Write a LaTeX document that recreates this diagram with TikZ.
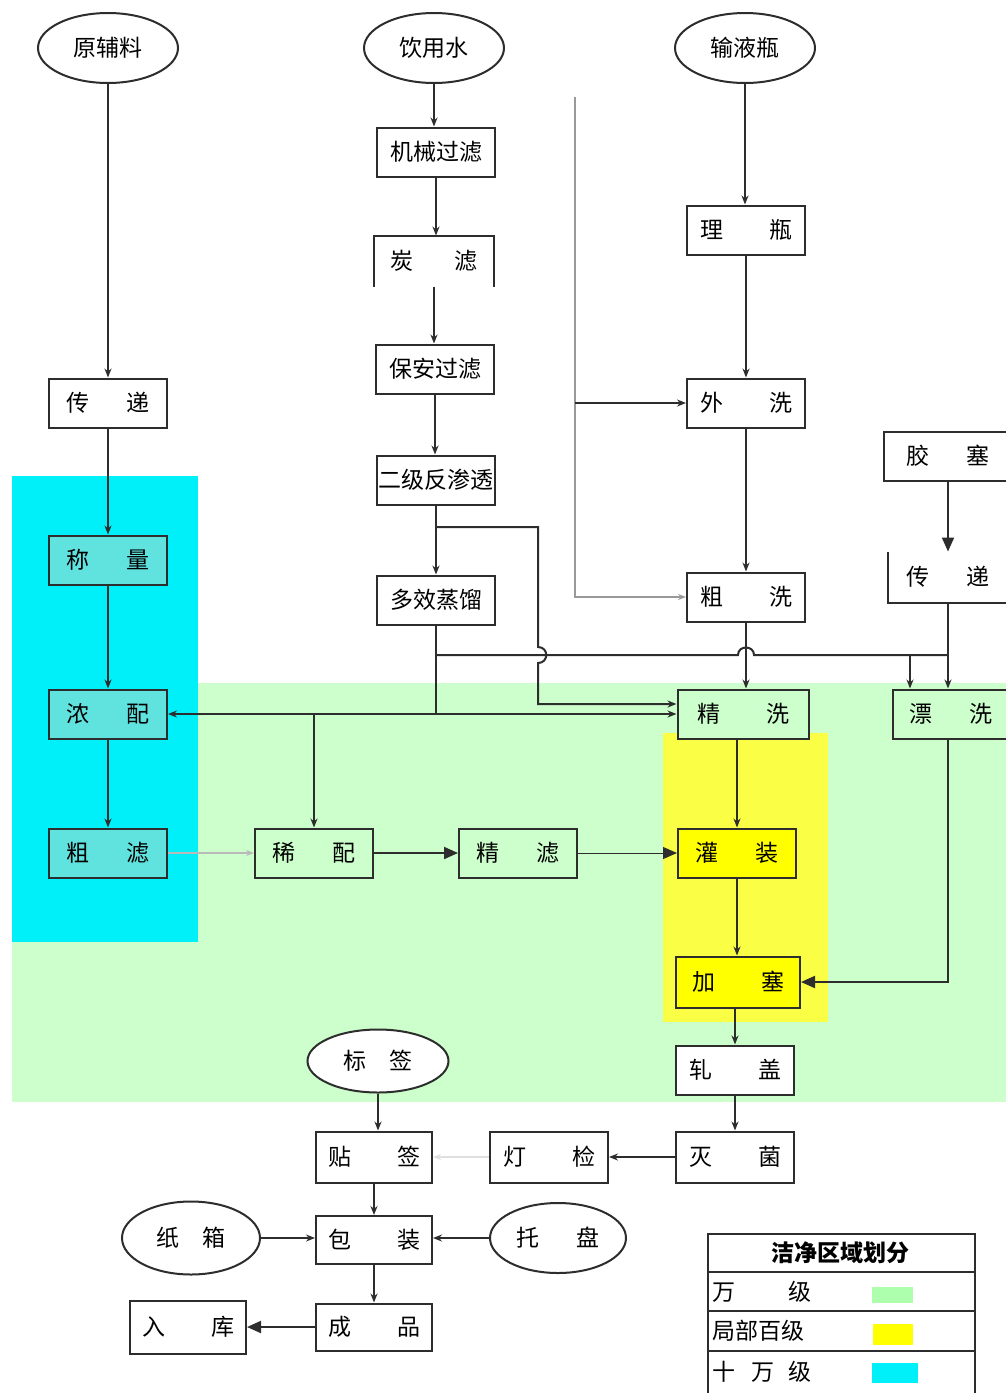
\documentclass[tikz,border=0pt]{standalone}
\usepackage{fontspec}
\setmainfont{Noto Sans CJK SC}
\usetikzlibrary{arrows.meta,shapes.geometric}

\definecolor{wanji}{RGB}{204,255,204}
\definecolor{shiwan}{RGB}{0,240,250}
\definecolor{baiji}{RGB}{250,255,70}
\definecolor{shiwanbox}{RGB}{96,226,222}
\definecolor{guanbox}{RGB}{255,255,0}
\definecolor{linegray}{RGB}{45,45,45}
\newcommand{\twochars}[3][1.6em]{#2\hspace{#1}#3}

\tikzset{
  box/.style={draw=linegray, line width=2pt, fill=white, minimum width=118pt,
    minimum height=49pt, inner sep=0pt, font=\fontsize{23}{26}\selectfont},
  openbox/.style={box, draw=none, fill=none},
  oval/.style={ellipse, draw=linegray, line width=2pt, fill=white, minimum width=140pt,
    minimum height=70pt, inner sep=0pt, font=\fontsize{23}{26}\selectfont},
  flow/.style={draw=linegray, line width=2pt, -{Stealth[length=9pt,width=7pt]}},
  bigflow/.style={draw=linegray, line width=2pt, -{Triangle[length=14pt,width=12pt]}},
  faint/.style={draw=gray!55, line width=1.2pt, -{Stealth[length=8pt,width=6pt]}},
  pipe/.style={draw=linegray, line width=2pt},
  legendtext/.style={anchor=west, inner sep=0pt, font=\fontsize{23}{26}\selectfont},
}

\begin{document}
\begin{tikzpicture}[x={(1pt,0pt)}, y={(0pt,-1pt)}]
    \useasboundingbox (0,0) rectangle (1006,1393);
    \clip (0,0) rectangle (1006,1393);
    \fill[white] (0,0) rectangle (1006,1393);

    % clean zones
    \fill[wanji] (12,683) rectangle (1006,1102);
    \fill[shiwan] (12,476) rectangle (198,942);
    \fill[baiji] (663,733) rectangle (828,1022);

    % raw material column
    \node[oval] (yfl) at (108,48) {原辅料};
    \node[box] (cd1) at (108,403) {\twochars{传}{递}};
    \node[box, fill=shiwanbox] (cl) at (108,560) {\twochars{称}{量}};
    \node[box, fill=shiwanbox] (np) at (108,714) {\twochars{浓}{配}};
    \node[box, fill=shiwanbox] (cl2) at (108,853) {\twochars{粗}{滤}};
    \node[box, fill=wanji] (xp) at (314,853) {\twochars{稀}{配}};
    \node[box, fill=wanji] (jl) at (518,853) {\twochars{精}{滤}};

    % water column
    \node[oval] (ysw) at (434,48) {饮用水};
    \node[box] (jxgl) at (436,152) {机械过滤};
    \node[openbox] (tl) at (434,261) {\twochars[1.8em]{炭}{滤}};
    \draw[pipe] (tl.south west) -- (tl.north west) -- (tl.north east) -- (tl.south east);
    \node[box] (bagl) at (435,369) {保安过滤};
    \node[box] (ejfst) at (436,480) {二级反渗透};
    \node[box] (dxzl) at (436,600) {多效蒸馏};

    % bottle column
    \node[oval] (syp) at (745,48) {输液瓶};
    \node[box] (lp) at (746,230) {\twochars[2em]{理}{瓶}};
    \node[box] (wx) at (746,403) {\twochars[2em]{外}{洗}};
    \node[box] (cx) at (746,597) {\twochars[2em]{粗}{洗}};
    \node[box, fill=wanji, minimum width=131pt] (jx) at (743,714) {\twochars[2em]{精}{洗}};

    % stopper column
    \node[box, minimum width=128pt] (js) at (948,456) {\twochars{胶}{塞}};
    \node[openbox] (cd2) at (948,577) {\twochars{传}{递}};
    \draw[pipe] (cd2.north west) -- (cd2.south west) -- (cd2.south east);
    \node[box, fill=wanji, minimum width=116pt] (px) at (951,714) {\twochars{漂}{洗}};

    % filling line
    \node[box, fill=guanbox] (gz) at (737,853) {\twochars{灌}{装}};
    \node[box, fill=guanbox, minimum width=124pt, minimum height=51pt] (jsai) at (738,982) {\twochars[2em]{加}{塞}};
    \node[box] (zg) at (735,1070) {\twochars[2em]{轧}{盖}};
    \node[box, minimum height=51pt] (mj) at (735,1157) {\twochars[2em]{灭}{菌}};
    \node[box, minimum height=51pt] (dj) at (549,1157) {\twochars[2em]{灯}{检}};
    \node[box, minimum width=116pt, minimum height=51pt] (tq) at (374,1157) {\twochars[2em]{贴}{签}};
    \node[oval, minimum width=141pt, minimum height=63pt] (bq) at (378,1061) {\twochars[1em]{标}{签}};
    \node[box, minimum width=116pt, minimum height=48pt] (bz) at (374,1240) {\twochars[2em]{包}{装}};
    \node[oval, minimum width=138pt, minimum height=73pt] (zx) at (191,1238) {\twochars[1em]{纸}{箱}};
    \node[oval, minimum width=136pt, minimum height=70pt] (tp) at (558,1238) {\twochars[1.6em]{托}{盘}};
    \node[box, minimum width=116pt, minimum height=47pt] (cp) at (374,1327) {\twochars[2em]{成}{品}};
    \node[box, minimum width=116pt, minimum height=53pt] (rk) at (188,1327) {\twochars[2em]{入}{库}};

    % raw material flow
    \draw[flow] (yfl.south) -- (cd1.north);
    \draw[flow] (cd1) -- (cl);
    \draw[flow] (cl) -- (np);
    \draw[flow] (np) -- (cl2);
    \draw[faint] (cl2.east) -- (xp.west);
    \draw[bigflow] (xp) -- (jl);
    \draw[bigflow, line width=1pt] (jl.east) -- (gz.west);

    % water flow
    \draw[flow] (ysw.south) -- (ysw.south |- jxgl.north);
    \draw[flow] (jxgl.south) -- (jxgl.south |- tl.north);
    \draw[flow] (tl.south) -- (tl.south |- bagl.north);
    \draw[flow] (bagl.south) -- (bagl.south |- ejfst.north);
    \draw[flow] (ejfst.south) -- (ejfst.south |- dxzl.north);
    \coordinate (rotap) at (436,527);
    \coordinate (rocorner) at (538,527);
    \coordinate (jxin) at ([yshift=10pt]jx.west);
    \draw[flow] (rotap) -- (rocorner) -- (538,647) .. controls (549,647) and (549,663) .. (538,663)
        -- (jxin -| rocorner) -- (jxin);
    \coordinate (dhub) at (dxzl.south |- jx.west);
    \draw[pipe] (dxzl.south) -- (dhub);
    \draw[flow] (dhub) -- (jx.west);
    \draw[flow] (dhub) -- (np.east);
    \draw[flow] (xp.north |- np.east) -- (xp.north);
    \coordinate (whub) at (436,655);
    \draw[pipe] (whub) -- (738,655) .. controls (738,645) and (754,645) .. (754,655) -- (cd2.south |- whub);
    \coordinate (pxa) at (910,655);
    \draw[flow] (pxa) -- (pxa |- px.north);

    % bottle flow
    \draw[flow] (syp.south) -- (syp.south |- lp.north);
    \draw[flow] (lp) -- (wx);
    \draw[flow] (wx) -- (cx);
    \draw[flow] (cx.south) -- (cx.south |- jx.north);
    \coordinate (wtop) at (575,97);
    \draw[faint, draw=gray!80] (wtop) -- (wtop |- cx.west) -- (cx.west);
    \draw[flow, line width=1.4pt] (wtop |- wx.west) -- (wx.west);

    % stopper flow
    \draw[bigflow] (js.south) -- (cd2.north);
    \draw[flow] (cd2.south) -- (cd2.south |- px.north);
    \draw[bigflow] (cd2.south |- px.south) -- (cd2.south |- jsai.east) -- (jsai.east);

    % filling and packing flow
    \draw[flow] (gz.north |- jx.south) -- (gz.north);
    \draw[flow] (gz.south) -- (gz.south |- jsai.north);
    \draw[flow] (zg.north |- jsai.south) -- (zg.north);
    \draw[flow] (zg) -- (mj);
    \draw[flow] (mj.west) -- (dj.east);
    \draw[faint, draw=gray!25] (dj.west) -- (tq.east);
    \draw[flow] (bq.south) -- (tq.north -| bq.south);
    \draw[flow] (tq) -- (bz);
    \draw[flow] (zx.east) -- (zx.east -| bz.west);
    \draw[flow] (tp.west) -- (tp.west -| bz.east);
    \draw[flow] (bz) -- (cp);
    \draw[bigflow] (cp.west) -- (rk.east);

    % legend
    \draw[pipe] (708,1393) -- (708,1234) -- (975,1234) -- (975,1393);
    \draw[pipe] (708,1272) -- (975,1272);
    \draw[pipe] (708,1311) -- (975,1311);
    \draw[pipe] (708,1351) -- (975,1351);
    \node[font=\fontsize{23}{26}\selectfont\bfseries] (lgtitle) at (840,1253) {洁净区域划分};
    \node[legendtext] (lgwan) at (712,1292) {万\hspace{2.3em}级};
    \node[legendtext] (lgbai) at (712,1331) {局部百级};
    \node[legendtext] (lgshi) at (712,1372) {十\hspace{0.7em}万\hspace{0.6em}级};
    \fill[wanji!85!green] (872,1287) rectangle (913,1303);
    \fill[guanbox] (873,1324) rectangle (913,1345);
    \fill[shiwan] (872,1363) rectangle (918,1383);
\end{tikzpicture}
\end{document}
